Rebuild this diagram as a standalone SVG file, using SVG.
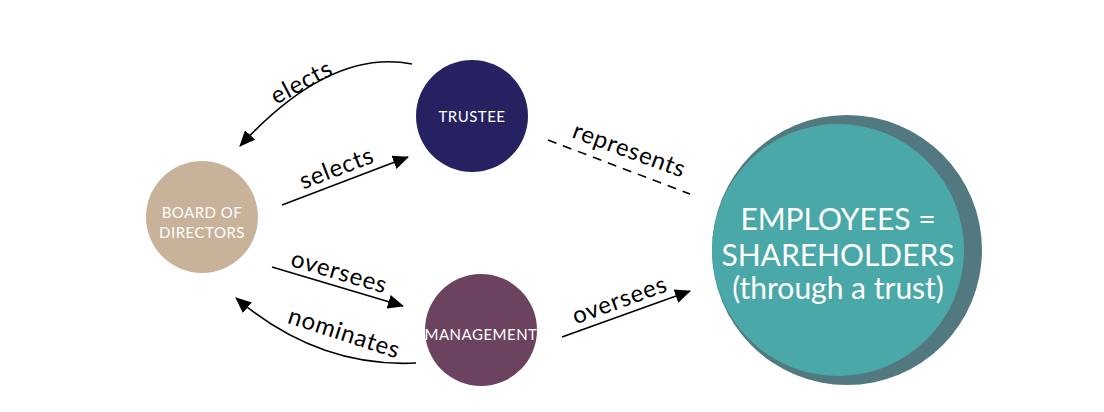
<svg xmlns="http://www.w3.org/2000/svg" width="1104" height="412" viewBox="0 0 1104 412">
<style>
.node-label{font-family:Lato,"Open Sans","Liberation Sans",sans-serif;fill:#ffffff;text-anchor:middle;font-size:15px;letter-spacing:0.5px}
.big-label{font-family:Lato,"Open Sans","Liberation Sans",sans-serif;fill:#ffffff;text-anchor:middle;font-size:30px}
.edge-label{font-family:Lato,"Open Sans","Liberation Sans",sans-serif;fill:#000000;text-anchor:middle;font-size:24px;letter-spacing:0.8px}
.edge{fill:none;stroke:#000000;stroke-width:1.6}
.dashed{stroke-dasharray:9 7}
</style>
<defs>
<marker id="arrowL" viewBox="0 0 16 14" refX="15" refY="7" markerWidth="16" markerHeight="14" markerUnits="userSpaceOnUse" orient="auto">
<path d="M0,0 L16,7 L0,14 z" fill="#000000"/>
</marker>
</defs>
<rect width="1104" height="412" fill="#ffffff"/>
<g id="connectors">
<path class="edge" d="M412,64 Q330,48 240,146" marker-end="url(#arrowL)"/>
<path class="edge" d="M282,205 L408,157" marker-end="url(#arrowL)"/>
<path class="edge" d="M272,267 L403,306" marker-end="url(#arrowL)"/>
<path class="edge" d="M416,363 Q318,368 236,298" marker-end="url(#arrowL)"/>
<path class="edge" d="M562,337 L690,291" marker-end="url(#arrowL)"/>
<path class="edge dashed" d="M548,140 L690,194"/>
<text class="edge-label" transform="translate(302,83) rotate(-28)" y="7">elects</text>
<text class="edge-label" transform="translate(337,169) rotate(-21)" y="7">selects</text>
<text class="edge-label" transform="translate(339,273) rotate(16.5)" y="7">oversees</text>
<text class="edge-label" transform="translate(344,334) rotate(18)" y="7">nominates</text>
<text class="edge-label" transform="translate(620,301) rotate(-20)" y="7">oversees</text>
<text class="edge-label" transform="translate(629,151) rotate(20)" y="7">represents</text>
</g>
<g id="trustee">
<circle cx="472" cy="116" r="56" fill="#262262"/>
<text class="node-label" x="472" y="122">TRUSTEE</text>
</g>
<g id="board">
<circle cx="202" cy="217" r="56" fill="#c8b299"/>
<text class="node-label" x="202" y="218">BOARD OF</text>
<text class="node-label" x="202" y="238">DIRECTORS</text>
</g>
<g id="management">
<circle cx="481" cy="330" r="56" fill="#6b435e"/>
<text class="node-label" x="481" y="340">MANAGEMENT</text>
</g>
<g id="employees">
<circle cx="847" cy="250" r="135" fill="#52797f"/>
<circle cx="838" cy="250" r="126" fill="#4aa9a8"/>
<text class="big-label" x="838" y="230">EMPLOYEES =</text>
<text class="big-label" x="838" y="266">SHAREHOLDERS</text>
<text class="big-label" x="838" y="299">(through a trust)</text>
</g>
</svg>
